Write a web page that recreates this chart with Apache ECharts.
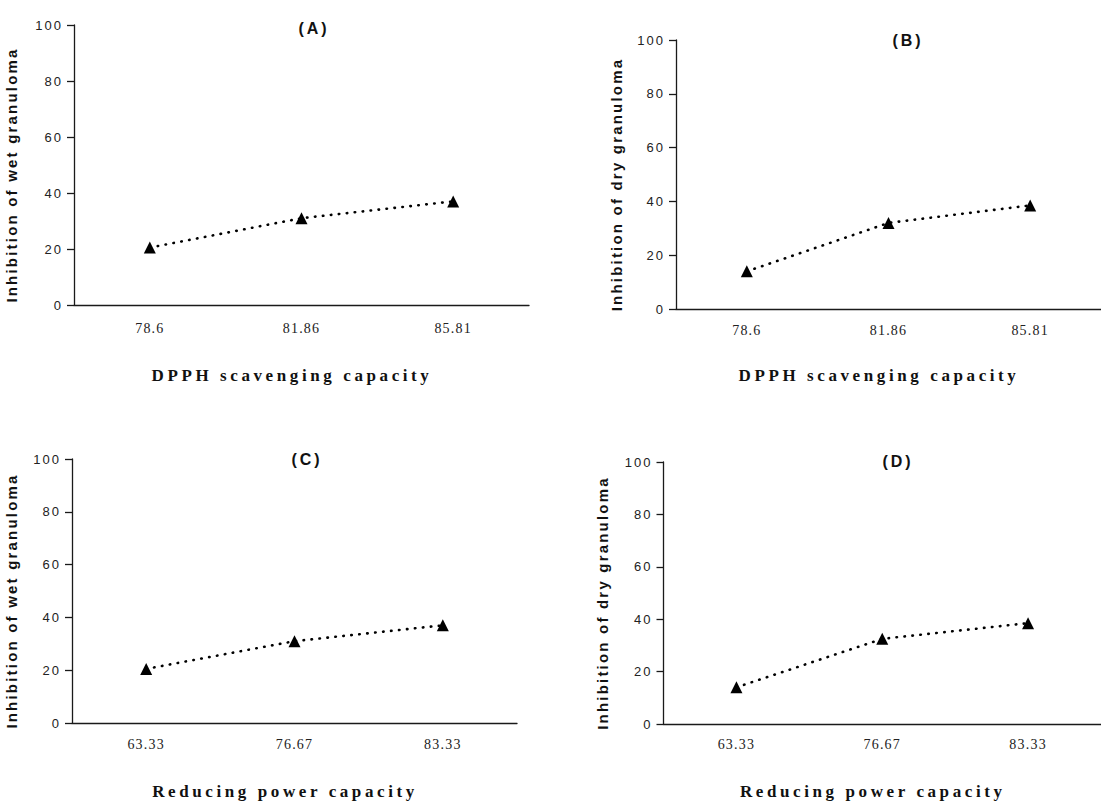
<!DOCTYPE html>
<html>
<head>
<meta charset="utf-8">
<script src="https://cdn.jsdelivr.net/npm/echarts@6/dist/echarts.min.js"></script>
<style>
  html, body { margin: 0; padding: 0; background: #fff; }
  #chart { width: 1101px; height: 801px; }
  /* the original figure uses wide letter spacing */
  #chart text { letter-spacing: 2px; }
  #chart text[style*="14px"] { letter-spacing: 1.2px; }
  #chart text[style*="15px"] { letter-spacing: 2.2px; }
  #chart text[style*="16px"] { letter-spacing: 3px; }
  #chart text[style*="17px"] { letter-spacing: 3.6px; }
</style>
</head>
<body>
<div id="chart"></div>
<script>
// categories (x tick labels)
var dpphCats = ['78.6', '81.86', '85.81'];
var reducingCats = ['63.33', '76.67', '83.33'];

// inhibition values
var wetA = [20.5, 31, 37];
var dryB = [14, 32, 38.5];
var wetC = [20.5, 31, 37];
var dryD = [14, 32.5, 38.5];

var panelTitles = ['(A)', '(B)', '(C)', '(D)'];
var xNames = ['DPPH scavenging capacity', 'DPPH scavenging capacity', 'Reducing power capacity', 'Reducing power capacity'];
var yNames = ['Inhibition of wet granuloma', 'Inhibition of dry granuloma', 'Inhibition of wet granuloma', 'Inhibition of dry granuloma'];

var chart = echarts.init(document.getElementById('chart'), null, {renderer: 'svg'});

//面板位置
var grids = [
  {left: 74, top: 25, width: 455, height: 280},
  {left: 676, top: 40, width: 441, height: 269},
  {left: 72, top: 459, width: 445, height: 273},
  {left: 663.5, top: 462, width: 442.5, height: 271}
];
var titlePos = [[309, 25], [903, 37], [302, 456], [893, 458]];
var xNameGap = [62, 58, 60, 59];
var yNameGap = [55, 52, 53, 53.5];
var labelMargin = [16, 14, 14, 13];
var cats = [dpphCats, dpphCats, reducingCats, reducingCats];
var values = [wetA, dryB, wetC, dryD];

var axisColor = '#1a1a1a';
var xAxes = [], yAxes = [], series = [], titles = [];

grids.forEach(function(g, i){
  titles.push({
    text: panelTitles[i],
    left: titlePos[i][0],
    top: titlePos[i][1] - 10,
    textAlign: 'center',
    textStyle: {fontFamily: 'Liberation Sans', fontWeight: 'bold', fontSize: 16, color: '#111'}
  });
  xAxes.push({
    type: 'category',
    gridIndex: i,
    data: cats[i],
    boundaryGap: true,
    name: xNames[i],
    nameLocation: 'middle',
    nameGap: xNameGap[i],
    nameTextStyle: {fontFamily: 'Liberation Serif', fontWeight: 'bold', fontSize: 17, color: '#111', padding: [0, 19, 0, 0]},
    axisLine: {lineStyle: {color: axisColor, width: 1.3}},
    axisTick: {alignWithLabel: true, length: 6, lineStyle: {color: axisColor, width: 1.3}},
    axisLabel: {fontFamily: 'Liberation Serif', fontSize: 14, color: '#222', margin: labelMargin[i]},
    splitLine: {show: false}
  });
  yAxes.push({
    type: 'value',
    gridIndex: i,
    min: 0,
    max: 100,
    interval: 20,
    name: yNames[i],
    nameLocation: 'middle',
    nameRotate: 90,
    nameGap: yNameGap[i],
    nameTextStyle: {fontFamily: 'Liberation Sans', fontWeight: 'bold', fontSize: 15, color: '#111', padding: [0, 20, 0, 0]},
    axisLine: {show: true, lineStyle: {color: axisColor, width: 1.3}},
    axisTick: {show: true, length: 7, lineStyle: {color: axisColor, width: 1.3}},
    axisLabel: {fontFamily: 'Liberation Sans', fontSize: 13, color: '#222', margin: 11},
    splitLine: {show: false}
  });
  series.push({
    type: 'line',
    xAxisIndex: i,
    yAxisIndex: i,
    data: values[i],
    symbol: 'triangle',
    symbolSize: [12, 12],
    itemStyle: {color: '#000'},
    lineStyle: {color: '#000', width: 2.6, type: [0.5, 7.5], cap: 'round'},
    animation: false
  });
});

chart.setOption({
  backgroundColor: '#fff',
  animation: false,
  title: titles,
  grid: grids,
  xAxis: xAxes,
  yAxis: yAxes,
  series: series
});
</script>
</body>
</html>
